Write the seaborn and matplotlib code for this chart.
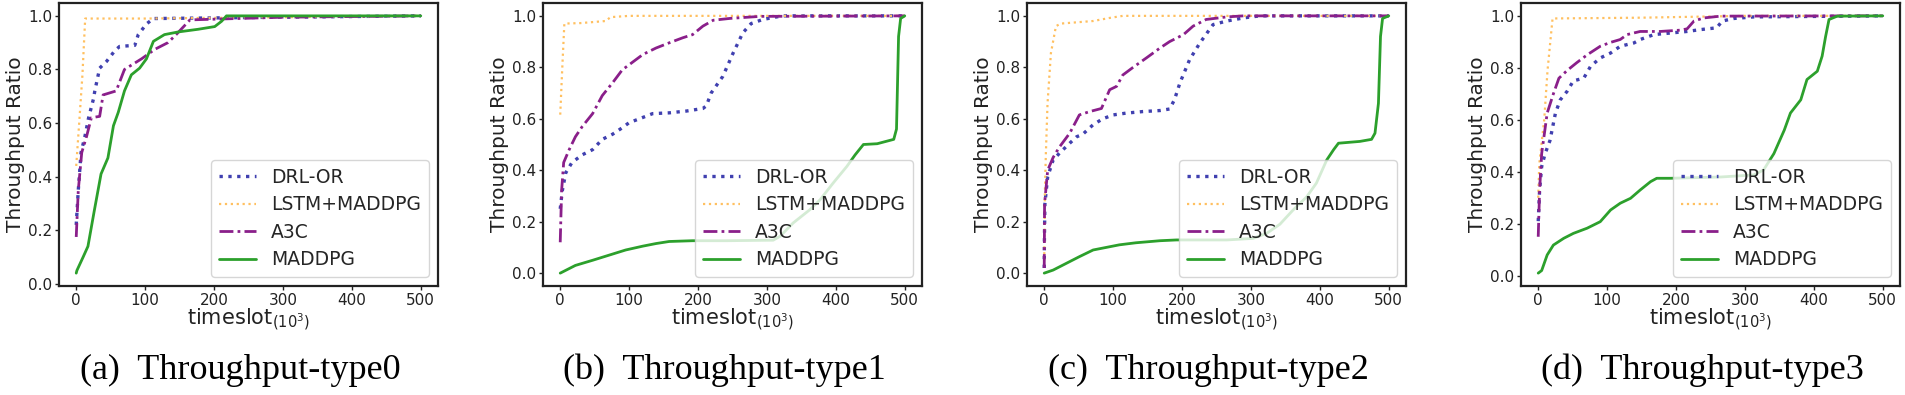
import matplotlib
matplotlib.use("Agg")
import pandas as pd
import matplotlib.pyplot as plt
import seaborn as sb

# curve points (x in 10^3 timeslots, y = throughput ratio)
methods = ["DRL-OR", "LSTM+MADDPG", "A3C", "MADDPG"]
captions = ["(a)  Throughput-type0", "(b)  Throughput-type1",
            "(c)  Throughput-type2", "(d)  Throughput-type3"]
x_ticks = [0, 100, 200, 300, 400, 500]
y_ticks = [0.0, 0.2, 0.4, 0.6, 0.8, 1.0]

# --- type0
drl_a_x = [0, 3, 7, 12.6, 18, 25, 27, 34, 44, 56, 63, 85, 90, 102, 112, 300, 500]
drl_a_y = [0.22, 0.35, 0.49, 0.55, 0.62, 0.69, 0.72, 0.805, 0.83, 0.87, 0.886, 0.89, 0.93, 0.97, 0.99, 0.995, 1.0]
lstm_a_x = [0, 4.3, 9, 13, 100, 300, 500]
lstm_a_y = [0.44, 0.60, 0.78, 0.99, 0.99, 0.995, 1.0]
a3c_a_x = [0, 3, 8, 15, 22, 34, 39, 58, 70, 95, 114, 133, 145, 165, 300, 500]
a3c_a_y = [0.175, 0.35, 0.49, 0.55, 0.62, 0.625, 0.705, 0.72, 0.80, 0.84, 0.875, 0.90, 0.93, 0.985, 0.995, 1.0]
mad_a_x = [0, 1, 10, 17, 26, 36, 46, 54, 61, 70, 80, 92, 102, 112, 128, 148, 177, 201, 211, 218, 500]
mad_a_y = [0.04, 0.05, 0.10, 0.14, 0.27, 0.41, 0.47, 0.59, 0.64, 0.72, 0.78, 0.805, 0.84, 0.905, 0.93, 0.94, 0.95, 0.96, 0.98, 1.0, 1.0]

# --- type1
drl_b_x = [0, 3, 8, 17, 32, 47, 61, 76, 90, 100, 115, 134, 158, 183, 207, 212, 219, 236, 251, 265, 277, 294, 314, 324, 500]
drl_b_y = [0.25, 0.32, 0.39, 0.43, 0.46, 0.48, 0.52, 0.54, 0.565, 0.585, 0.60, 0.62, 0.623, 0.63, 0.64, 0.65, 0.70, 0.765, 0.856, 0.934, 0.97, 0.986, 0.996, 1.0, 1.0]
lstm_b_x = [0, 3, 6, 30, 66, 73, 100, 500]
lstm_b_y = [0.616, 0.80, 0.97, 0.972, 0.98, 0.995, 1.0, 1.0]
a3c_b_x = [0, 2, 5, 13, 22, 32, 47, 61, 76, 90, 105, 120, 139, 158, 178, 192, 207, 222, 246, 290, 500]
a3c_b_y = [0.12, 0.32, 0.43, 0.48, 0.53, 0.57, 0.62, 0.69, 0.74, 0.79, 0.82, 0.85, 0.875, 0.895, 0.915, 0.927, 0.96, 0.983, 0.99, 0.998, 1.0]
mad_b_x = [0, 22, 47, 71, 95, 120, 139, 158, 192, 241, 309, 319, 338, 362, 377, 396, 416, 428, 440, 460, 484, 488, 491, 494, 500]
mad_b_y = [0.0, 0.03, 0.05, 0.07, 0.09, 0.105, 0.115, 0.123, 0.126, 0.126, 0.128, 0.143, 0.195, 0.246, 0.285, 0.35, 0.415, 0.46, 0.50, 0.503, 0.52, 0.56, 0.92, 0.99, 1.0]

# --- type2
drl_c_x = [0, 0.3, 1, 5, 13, 22, 37, 47, 56, 71, 85, 100, 119, 143, 168, 182, 189, 197, 211, 226, 238, 245, 265, 289, 313, 500]
drl_c_y = [0.02, 0.14, 0.27, 0.375, 0.44, 0.466, 0.505, 0.53, 0.54, 0.577, 0.60, 0.615, 0.622, 0.628, 0.632, 0.638, 0.674, 0.74, 0.83, 0.895, 0.94, 0.966, 0.98, 0.992, 1.0, 1.0]
lstm_c_x = [0, 1, 2.4, 4.8, 9.7, 17, 24, 71, 95, 114, 500]
lstm_c_y = [0.05, 0.32, 0.466, 0.66, 0.855, 0.96, 0.97, 0.98, 0.992, 1.0, 1.0]
a3c_c_x = [0, 0.5, 5, 13, 22, 37, 51, 66, 83, 95, 105, 114, 129, 148, 168, 182, 202, 216, 235, 265, 289, 500]
a3c_c_y = [0.02, 0.27, 0.40, 0.45, 0.49, 0.544, 0.615, 0.628, 0.64, 0.713, 0.726, 0.77, 0.80, 0.836, 0.875, 0.90, 0.927, 0.96, 0.986, 0.996, 1.0, 1.0]
mad_c_x = [0, 13, 32, 51, 71, 90, 109, 133, 168, 192, 265, 303, 323, 342, 361, 381, 395, 410, 420, 427, 458, 475, 480, 485, 488, 491, 500]
mad_c_y = [0.0, 0.012, 0.038, 0.064, 0.09, 0.10, 0.11, 0.118, 0.126, 0.129, 0.129, 0.135, 0.155, 0.19, 0.245, 0.297, 0.35, 0.44, 0.48, 0.505, 0.512, 0.52, 0.544, 0.66, 0.92, 0.99, 1.0]

# --- type3
drl_d_x = [0, 2, 5, 10, 17, 25, 32, 42, 51, 66, 76, 90, 105, 119, 139, 148, 168, 192, 216, 235, 259, 267, 284, 313, 500]
drl_d_y = [0.21, 0.33, 0.42, 0.47, 0.52, 0.626, 0.677, 0.71, 0.75, 0.76, 0.806, 0.838, 0.857, 0.883, 0.896, 0.909, 0.928, 0.934, 0.94, 0.947, 0.954, 0.98, 0.99, 0.996, 1.0]
lstm_d_x = [0, 1.5, 8.7, 13.5, 20.8, 150, 300, 500]
lstm_d_y = [0.30, 0.43, 0.60, 0.79, 0.99, 0.993, 1.0, 1.0]
a3c_d_x = [0, 2, 5, 13, 22, 30, 42, 56, 71, 90, 105, 119, 129, 148, 177, 206, 216, 226, 240, 265, 500]
a3c_d_y = [0.15, 0.33, 0.47, 0.626, 0.70, 0.76, 0.79, 0.82, 0.85, 0.883, 0.898, 0.909, 0.928, 0.94, 0.94, 0.945, 0.95, 0.98, 0.992, 0.999, 1.0]
mad_d_x = [0, 5, 13, 22, 37, 51, 71, 90, 105, 119, 134, 148, 163, 172, 192, 265, 313, 327, 342, 357, 366, 381, 390, 405, 412, 417, 422, 434, 500]
mad_d_y = [0.01, 0.02, 0.08, 0.118, 0.144, 0.163, 0.183, 0.208, 0.253, 0.279, 0.298, 0.33, 0.362, 0.375, 0.375, 0.38, 0.388, 0.407, 0.47, 0.56, 0.626, 0.677, 0.755, 0.787, 0.845, 0.92, 0.986, 0.999, 1.0]

panels = [
    [(drl_a_x, drl_a_y), (lstm_a_x, lstm_a_y), (a3c_a_x, a3c_a_y), (mad_a_x, mad_a_y)],
    [(drl_b_x, drl_b_y), (lstm_b_x, lstm_b_y), (a3c_b_x, a3c_b_y), (mad_b_x, mad_b_y)],
    [(drl_c_x, drl_c_y), (lstm_c_x, lstm_c_y), (a3c_c_x, a3c_c_y), (mad_c_x, mad_c_y)],
    [(drl_d_x, drl_d_y), (lstm_d_x, lstm_d_y), (a3c_d_x, a3c_d_y), (mad_d_x, mad_d_y)],
]

styles = {
    "DRL-OR": dict(color="#4040b0", linestyle=":", linewidth=2.4),
    "LSTM+MADDPG": dict(color="#ffc060", linestyle=":", linewidth=1.6),
    "A3C": dict(color="#8a1f8a", linestyle=(0, (5, 1.5, 1, 1.5)), linewidth=2.0),
    "MADDPG": dict(color="#2ca02c", linestyle="-", linewidth=2.0),
}

sb.set_style("ticks")
plt.rcParams["font.family"] = ["DejaVu Sans"]

W, H = 1905, 395
fig = plt.figure(figsize=(W / 100, H / 100), dpi=100)
lefts = [59, 543, 1027, 1521]
ax_w, ax_top, ax_bot = 379, 3, 286

for i, series in enumerate(panels):
    ax = fig.add_axes([lefts[i] / W, (H - ax_bot) / H, ax_w / W, (ax_bot - ax_top) / H])
    for name, (xs, ys) in zip(methods, series):
        df = pd.DataFrame({"x": xs, "y": ys})
        sb.lineplot(data=df, x="x", y="y", ax=ax, estimator=None, label=name, **styles[name])
    ax.set_xticks(x_ticks)
    ax.set_yticks(y_ticks)
    ax.set_yticklabels([f"{v:.1f}" for v in y_ticks])
    ax.tick_params(labelsize=11, colors="#222222", length=3, width=1, pad=2)
    ax.set_xlabel(r"timeslot$_{(10^3)}$", fontsize=15, labelpad=-1, color="#222222")
    ax.set_ylabel("Throughput Ratio", fontsize=14.5, labelpad=2, color="#222222")
    for s in ax.spines.values():
        s.set_linewidth(1.6)
        s.set_color("#222222")
        s.set_visible(True)
    ax.legend(loc="lower right", fontsize=13.5, framealpha=0.8, labelspacing=0.45)
    cx = (lefts[i] + ax_w / 2 - 8) / W
    fig.text(cx, 1 - 370 / H, captions[i], ha="center", va="center",
             fontsize=26, family="Liberation Serif", color="black")

fig.savefig("out.png", dpi=100)
